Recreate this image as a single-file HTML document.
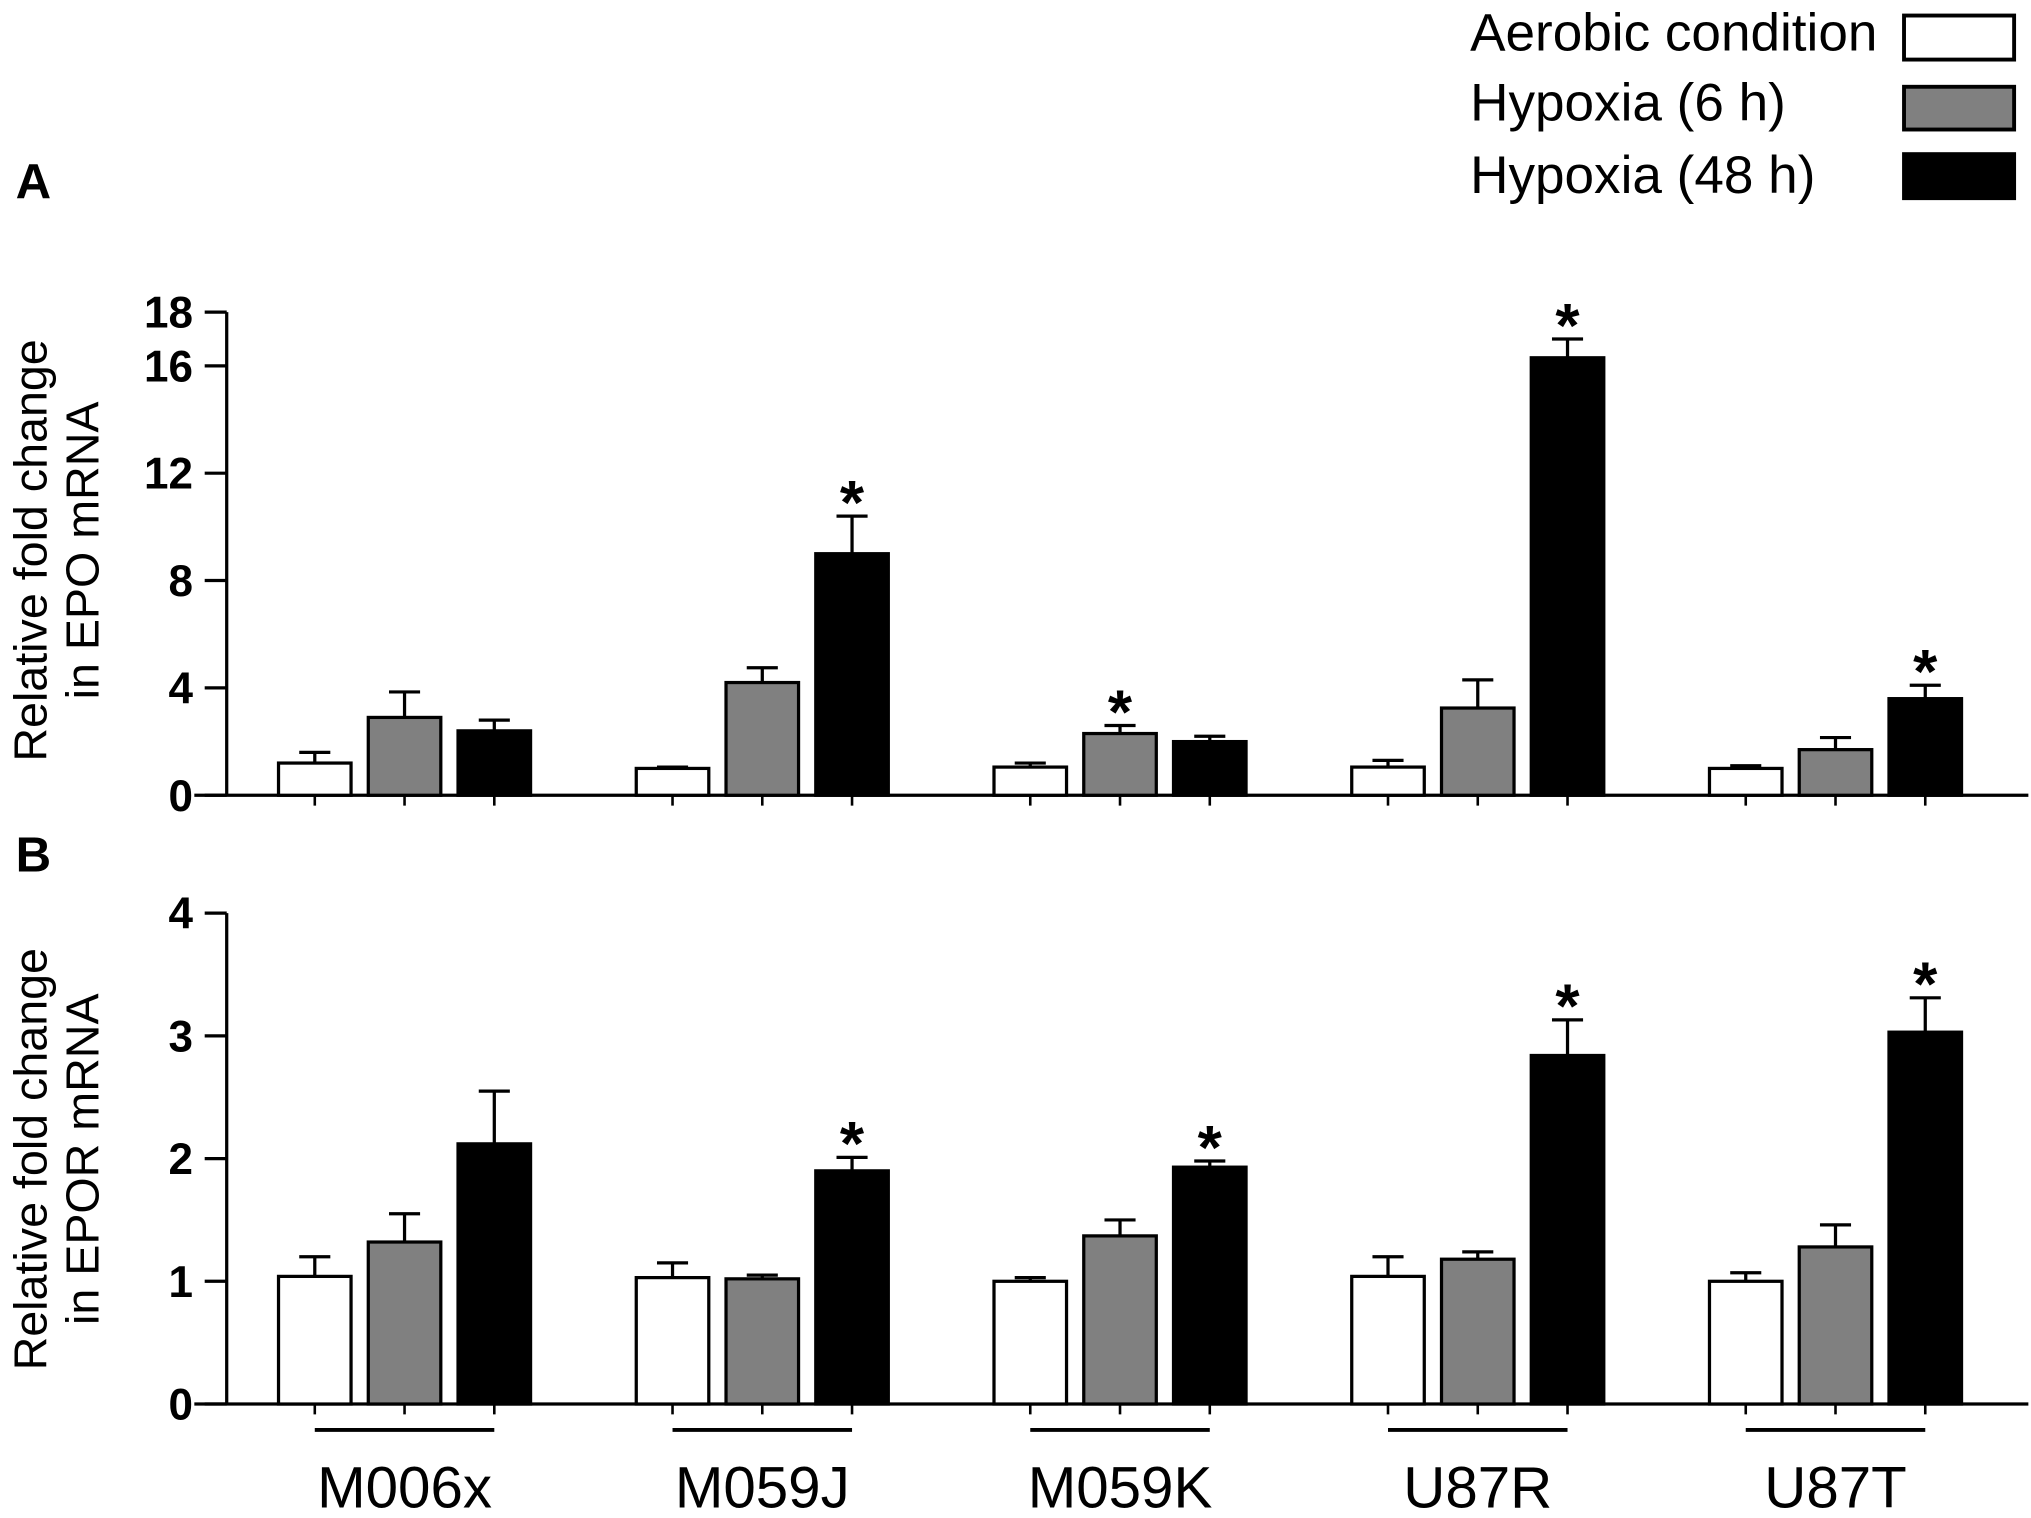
<!DOCTYPE html>
<html><head><meta charset="utf-8"><style>
html,body{margin:0;padding:0;background:#fff;}
svg{display:block;font-family:"Liberation Sans",Arial,sans-serif;}
</style></head><body>
<svg id="fig" width="2031" height="1518" viewBox="0 0 1568 1172" xmlns="http://www.w3.org/2000/svg">
<g font-size="41">
  <text x="1135" y="39">Aerobic condition</text>
  <rect x="1470" y="12" width="85" height="34" fill="#fff" stroke="#000" stroke-width="3"/>
  <text x="1135" y="93">Hypoxia (6 h)</text>
  <rect x="1470" y="67" width="85" height="33" fill="#808080" stroke="#000" stroke-width="3"/>
  <text x="1135" y="149">Hypoxia (48 h)</text>
  <rect x="1470" y="119" width="85" height="34" fill="#000" stroke="#000" stroke-width="3"/>
</g>
<text x="12" y="153" font-size="38" font-weight="bold">A</text>
<text x="12" y="673" font-size="38" font-weight="bold">B</text>
<g id="chartA"></g>
<g id="chartB"></g>
</svg>
<script>
const groups = ["M006x","M059J","M059K","U87R","U87T"];
const seriesNames = ["aerobic","hypoxia-6h","hypoxia-48h"];
const fills = ["#fff","#808080","#000"];
const epoMeans = [[1.2,2.9,2.4],[1.0,4.2,9.0],[1.05,2.3,2.0],[1.05,3.25,16.3],[1.0,1.7,3.6]];
const epoErrTops = [[1.6,3.85,2.8],[1.05,4.75,10.4],[1.2,2.6,2.2],[1.3,4.3,17.0],[1.1,2.15,4.1]];
const epoSig = [[0,0,0],[0,0,1],[0,1,0],[0,0,1],[0,0,1]];
const epoTicks = [0,4,8,12,16,18];
const eporMeans = [[1.04,1.32,2.12],[1.03,1.02,1.9],[1.0,1.37,1.93],[1.04,1.18,2.84],[1.0,1.28,3.03]];
const eporErrTops = [[1.2,1.55,2.55],[1.15,1.05,2.01],[1.03,1.5,1.98],[1.2,1.24,3.13],[1.07,1.46,3.31]];
const eporSig = [[0,0,0],[0,0,1],[0,0,1],[0,0,1],[0,0,1]];
const eporTicks = [0,1,2,3,4];

const NS="http://www.w3.org/2000/svg";
function mk(parent,tag,attrs){const e=document.createElementNS(NS,tag);for(const k in attrs)e.setAttribute(k,attrs[k]);parent.appendChild(e);return e;}
const groupX0=243, groupStep=276.2, barStep=69.3, barW=56;
function xPos(g,s){return groupX0+g*groupStep+s*barStep;}

function drawChart(root,means,errs,sig,ticks,ymax,y0,yTop,title1,title2,titleCy,withGroupLabels){
  const ys=v=>y0-(v/ymax)*(y0-yTop);
  const ya=mk(root,'line',{x1:175,y1:yTop,x2:175,y2:y0,stroke:'#000','stroke-width':2.5});
  
  
  const xa=mk(root,'line',{x1:150,y1:y0,x2:1566,y2:y0,stroke:'#000','stroke-width':2.5});
  
  
  ticks.forEach(t=>{
    const tl=mk(root,'line',{x1:158,y1:ys(t),x2:175,y2:ys(t),stroke:'#000','stroke-width':2.5});
    
    
    const tx=mk(root,'text',{x:149,y:ys(t)+12,'text-anchor':'end','font-size':34,'font-weight':'bold'});
    tx.textContent=t;
    
    
  });
  const tt=mk(root,'text',{transform:`translate(44,${titleCy}) rotate(-90)`,'text-anchor':'middle','font-size':36});
  
  
  const t1=mk(tt,'tspan',{x:0,y:-8});t1.textContent=title1;
  const t2=mk(tt,'tspan',{x:0,y:32});t2.textContent=title2;
  groups.forEach((gname,g)=>{
    seriesNames.forEach((sn,s)=>{
      const cx=xPos(g,s);
      const tk=mk(root,'line',{x1:cx,y1:y0,x2:cx,y2:y0+8,stroke:'#000','stroke-width':2});
      
      
      const eb=mk(root,'path',{d:`M${cx},${ys(means[g][s])} V${ys(errs[g][s])} M${cx-12},${ys(errs[g][s])} H${cx+12}`,stroke:'#000','stroke-width':2.5,fill:'none'});
      
      
      const r=mk(root,'rect',{x:cx-barW/2,y:ys(means[g][s]),width:barW,height:y0-ys(means[g][s]),fill:fills[s],stroke:'#000','stroke-width':2.5});
      
      
      if(sig[g][s]){
        const st=mk(root,'text',{x:cx,y:ys(errs[g][s])+6,'text-anchor':'middle','font-size':48,'font-weight':'bold'});
        st.textContent='*';
        
        
      }
    });
    if(withGroupLabels){
      const gl=mk(root,'line',{x1:xPos(g,0),y1:1104,x2:xPos(g,2),y2:1104,stroke:'#000','stroke-width':3});
      
      
      const lab=mk(root,'text',{x:xPos(g,1),y:1164,'text-anchor':'middle','font-size':45});
      lab.textContent=gname;
      
      
    }
  });
}
drawChart(document.getElementById('chartA'),epoMeans,epoErrTops,epoSig,epoTicks,18,614,241,'Relative fold change','in EPO mRNA',425,false);
drawChart(document.getElementById('chartB'),eporMeans,eporErrTops,eporSig,eporTicks,4,1084,705,'Relative fold change','in EPOR mRNA',895,true);
</script>
</body></html>
